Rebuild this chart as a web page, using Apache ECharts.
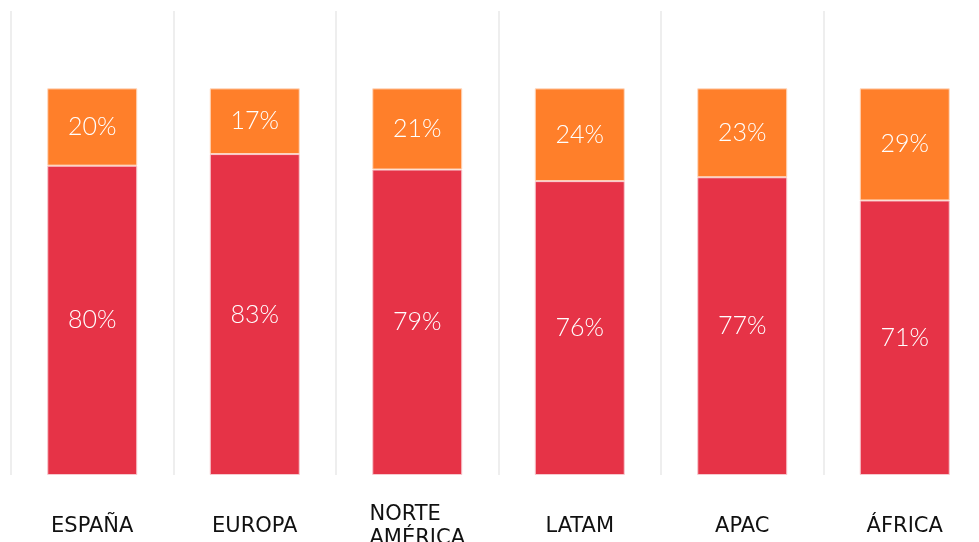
<!DOCTYPE html>
<html>
<head>
<meta charset="utf-8">
<script src="https://cdn.jsdelivr.net/npm/echarts@6/dist/echarts.min.js"></script>
<style>
html,body{margin:0;padding:0;background:#fff;}
#c{width:979px;height:542px;}
</style>
</head>
<body>
<div id="c"></div>
<script>
const categories = ['ESPAÑA', 'EUROPA', 'NORTE\nAMÉRICA', 'LATAM', 'APAC', 'ÁFRICA'];
const bottomValues = [80, 83, 79, 76, 77, 71];
const topValues = [20, 17, 21, 24, 23, 29];

const chart = echarts.init(document.getElementById('c'), null, {renderer: 'canvas'});
const labelFont = {
  show: true,
  position: 'inside',
  color: '#ffffff',
  fontFamily: 'Lato',
  fontWeight: 300,
  fontSize: 25,
  formatter: p => p.value + '%'
};
chart.setOption({
  animation: false,
  grid: {left: 11, width: 975, top: 11, height: 464, containLabel: false, outerBoundsMode: 'none'},
  xAxis: {
    type: 'category',
    data: categories,
    axisLine: {show: false},
    axisTick: {show: false},
    splitLine: {show: true, lineStyle: {color: '#eeeeee', width: 2}},
    axisLabel: {
      interval: 0,
      margin: 52,
      verticalAlign: 'middle',
      color: '#111111',
      fontFamily: '"DejaVu Sans"',
      fontSize: 21,
      lineHeight: 24,
      formatter: v => v.indexOf('\n') >= 0 ? v.split('\n').map(s => '{l|' + s + '}').join('\n') : v,
      rich: {l: {align: 'left', fontFamily: '"DejaVu Sans"', fontSize: 21, lineHeight: 24, color: '#111111'}}
    }
  },
  yAxis: {
    type: 'value',
    min: 0,
    max: 120,
    show: false,
    splitLine: {show: false}
  },
  series: [
    {
      type: 'bar',
      stack: 's',
      data: bottomValues,
      barWidth: 90,
      itemStyle: {color: '#E63347', borderColor: '#f7c9cf', borderWidth: 1},
      label: labelFont
    },
    {
      type: 'bar',
      stack: 's',
      data: topValues,
      barWidth: 90,
      itemStyle: {color: '#FF7F2A', borderColor: '#ffd9c0', borderWidth: 1},
      label: labelFont
    }
  ]
});
</script>
</body>
</html>
